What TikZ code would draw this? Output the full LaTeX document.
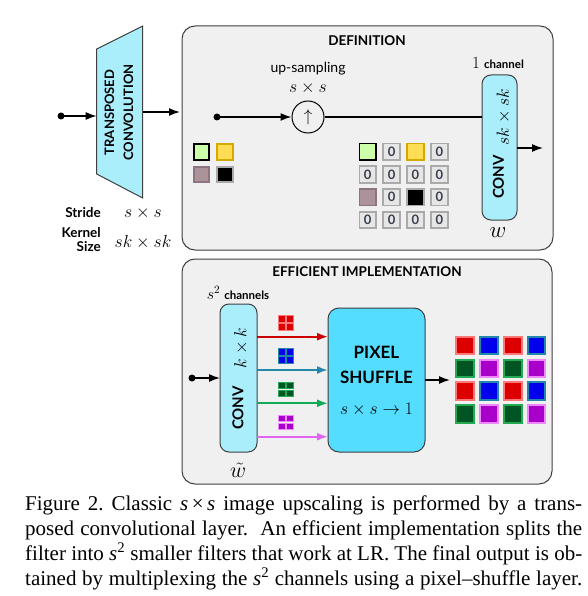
\RequirePackage{fix-cm}
\documentclass[tikz,border=0pt]{standalone}
\usepackage{fontspec}
\setmainfont{Liberation Serif}
\newfontfamily\lato{Lato}
\usetikzlibrary{arrows.meta}
\frenchspacing
\definecolor{cyanlight}{HTML}{AAEEFC}
\definecolor{cyanbright}{HTML}{55DDFF}
\definecolor{boxbg}{HTML}{F0F0F0}
\definecolor{boxline}{HTML}{404040}
\definecolor{cgreenf}{HTML}{CCFFAA}
\definecolor{cyellowf}{HTML}{FFDD55}
\definecolor{cyellowd}{HTML}{D4AA00}
\definecolor{cmauvef}{HTML}{AC939A}
\definecolor{cmauved}{HTML}{8E7480}
\definecolor{zerof}{HTML}{E6E6E6}
\definecolor{zerod}{HTML}{AAAAAA}
\definecolor{zerot}{HTML}{3A4050}
\definecolor{redf}{HTML}{DD0000}
\definecolor{redd}{HTML}{FF7777}
\definecolor{bluef}{HTML}{0000EE}
\definecolor{blued}{HTML}{2288AA}
\definecolor{greenf}{HTML}{005522}
\definecolor{greend}{HTML}{22AA55}
\definecolor{purplef}{HTML}{AA00CC}
\definecolor{purpled}{HTML}{EE88FF}
\definecolor{arrred}{HTML}{CC0000}
\definecolor{arrblue}{HTML}{2288AA}
\definecolor{arrgreen}{HTML}{11AA55}
\definecolor{arrmag}{HTML}{E066F0}
\tikzset{
  arr/.style={-{Latex[length=11pt,width=8pt]}, line width=1.5pt},
  carr/.style={-{Latex[length=11pt,width=8pt]}, line width=1.9pt},
  panel/.style={draw=boxline, fill=boxbg, rounded corners=13pt, line width=1pt, outer sep=0pt, inner sep=0pt},
  convbox/.style={draw=boxline, fill=cyanlight, rounded corners=9pt, line width=1pt, outer sep=0pt, inner sep=0pt},
  psbox/.style={draw=boxline, fill=cyanbright, rounded corners=11pt, line width=1pt, outer sep=0pt, inner sep=0pt},
  title/.style={font=\lato\bfseries\fontsize{13.5}{15}\selectfont},
  blbl/.style={font=\lato\bfseries\fontsize{13.5}{14}\selectfont, align=right, inner sep=0pt},
  mathlbl/.style={font=\fontsize{17.5}{19}\selectfont, inner sep=0pt},
  cell/.style={minimum size=15.5pt, line width=1.8pt, inner sep=0pt, outer sep=0pt},
  zcell/.style={cell, fill=zerof, draw=zerod, minimum size=16.5pt, font=\lato\bfseries\fontsize{13}{13}\selectfont, text=zerot},
  ocell/.style={minimum size=17.5pt, line width=2pt, inner sep=0pt, outer sep=0pt},
  icell/.style={minimum size=6.6pt, line width=0.9pt, inner sep=0pt, outer sep=0pt},
  capline/.style={anchor=base west, inner sep=0pt, font=\fontsize{21}{25}\selectfont},
}
\begin{document}
\begin{tikzpicture}[x=1pt,y=-1pt]
\useasboundingbox[fill=white] (0,0) rectangle (587,596);

% ---------- transposed convolution ----------
\coordinate (tl) at (96.7,49);
\coordinate (tr) at (142.7,26);
\coordinate (br) at (142.7,198);
\coordinate (bl) at (96.7,174);
\fill[cyanlight] (tl) -- (tr) -- (br) -- (bl) -- cycle;
\draw[boxline, line width=1pt] (tl) -- (tr) -- (br) -- (bl) -- cycle;
\node[rotate=90, align=center, font=\lato\bfseries\fontsize{13}{19}\selectfont] (tconv) at (119,112.5) {TRANSPOSED\\CONVOLUTION};
\coordinate (tin) at (61,116);
\coordinate (tinend) at (96.7,116);
\coordinate (toutst) at (142.7,112);
\coordinate (toutend) at (180,112);
\fill (tin) circle (3.5);
\draw[arr] (tin) -- (tinend);
\draw[arr] (toutst) -- (toutend);

\node[blbl, anchor=east] (stride) at (101,213) {Stride};
\node[blbl, anchor=east] (kernel) at (101,240) {Kernel\\Size};
\node[mathlbl] (sval) at (143,213) {$s\times s$};
\node[mathlbl] (kval) at (143,242) {$sk\times sk$};

% ---------- DEFINITION panel ----------
\node[panel, minimum width=371pt, minimum height=224pt, anchor=north west] (def) at (182,26) {};
\node[title] (deft) at (367,41) {DEFINITION};

\node[convbox, minimum width=35pt, minimum height=145pt] (defconv) at (499.5,147.5) {};
\node[mathlbl, rotate=90] (defk) at (503.5,117) {$sk\times sk$};
\node[rotate=90, font=\lato\bfseries\fontsize{15}{16}\selectfont] (defconvt) at (498.5,177) {CONV};
\node (onech) at (498,63) {\fontsize{17}{18}\selectfont$1$\ {\lato\bfseries\fontsize{11.5}{13}\selectfont channel}};
\node[font=\fontsize{23}{24}\selectfont] (wlbl) at (498,233) {$w$};

\coordinate (ddot) at (217,117);
\fill (ddot) circle (3.5);
\node[circle, draw, line width=1pt, minimum size=32pt, inner sep=0pt, font=\fontsize{17}{18}\selectfont] (up) at (308,117) {$\uparrow$};
\node[font=\lato\fontsize{14}{16}\selectfont] (upt) at (308,69) {up-sampling};
\node[mathlbl] (ups) at (308,88) {$s\times s$};
\draw[arr] (ddot) -- (up.west);
\draw[line width=1.5pt] (up.east) -- (up.east -| defconv.west);
\coordinate (defout) at (543,148);
\draw[arr] (defconv.east |- defout) -- (defout);

% small 2x2 input
\node[cell, fill=cgreenf, draw=black] (a1) at (201.5,152) {};
\node[cell, fill=cyellowf, draw=cyellowd] (a2) at (225,152) {};
\node[cell, fill=cmauvef, draw=cmauved] (a3) at (201.5,174.5) {};
\node[cell, fill=black, draw=zerod] (a4) at (225,174.5) {};

% 4x4 upsampled grid
\foreach \i in {0,...,3}{
  \foreach \j in {0,...,3}{
    \pgfmathsetmacro{\cx}{367.7+23.9*\i}
    \pgfmathsetmacro{\cy}{151.7+22.8*\j}
    \node[zcell] (z-\i-\j) at (\cx,\cy) {0};
  }
}
\node[zcell, fill=cgreenf, draw=black] (g00) at (z-0-0) {};
\node[zcell, fill=cyellowf, draw=cyellowd] (g20) at (z-2-0) {};
\node[zcell, fill=cmauvef, draw=cmauved] (g02) at (z-0-2) {};
\node[zcell, fill=black, draw=zerod] (g22) at (z-2-2) {};

% ---------- EFFICIENT panel ----------
\node[panel, minimum width=370pt, minimum height=225pt, anchor=north west] (eff) at (182,259) {};
\node[title] (efft) at (367,272) {EFFICIENT IMPLEMENTATION};

\node[convbox, minimum width=37pt, minimum height=148pt] (effconv) at (238.5,378) {};
\node[mathlbl, rotate=90] (effk) at (241,348) {$k\times k$};
\node[rotate=90, font=\lato\bfseries\fontsize{15}{16}\selectfont] (effconvt) at (238,408) {CONV};
\node (sch) at (238,293) {\fontsize{16}{18}\selectfont$s^2$\ {\lato\bfseries\fontsize{11.5}{13}\selectfont channels}};
\node[font=\fontsize{22}{23}\selectfont, inner sep=0pt] (wtl) at (238,470) {$\tilde{w}$};

\node[psbox, minimum width=97pt, minimum height=144pt] (ps) at (376.5,380) {};
\node[font=\lato\bfseries\fontsize{17}{18}\selectfont] (pst1) at (376.5,352) {PIXEL};
\node[font=\lato\bfseries\fontsize{17}{18}\selectfont] (pst2) at (376.5,377) {SHUFFLE};
\node[mathlbl] (pst3) at (376.5,410) {$s\times s\rightarrow 1$};

\coordinate (edot) at (192,378);
\fill (edot) circle (3.5);
\draw[arr] (edot) -- (effconv.west);

\coordinate (yr) at (0,336.7);
\coordinate (yb) at (0,370);
\coordinate (yg) at (0,403.3);
\coordinate (ym) at (0,436.7);
\draw[carr, arrred] (effconv.east |- yr) -- (ps.west |- yr);
\draw[carr, arrblue] (effconv.east |- yb) -- (ps.west |- yb);
\draw[carr, arrgreen] (effconv.east |- yg) -- (ps.west |- yg);
\draw[carr, arrmag] (effconv.east |- ym) -- (ps.west |- ym);

% icons
\foreach \n/\yy/\cf/\cd in {r/323/redf/redd, b/356/bluef/blued, g/389.5/greenf/greend, m/422.5/purplef/purpled}{
  \foreach \dx/\dy [count=\k] in {-4.1/-4.1, 4.1/-4.1, -4.1/4.1, 4.1/4.1}{
    \node[icell, fill=\cf, draw=\cd] (ic-\n-\k) at (286+\dx,\yy+\dy) {};
  }
}

\coordinate (effout) at (450,380);
\draw[arr] (ps.east |- effout) -- (effout);

% output grid
\foreach \i in {0,...,3}{
  \foreach \j in {0,...,3}{
    \pgfmathsetmacro{\cx}{465+23.9*\i}
    \pgfmathsetmacro{\cy}{345.7+22.7*\j}
    \pgfmathtruncatemacro{\ci}{mod(\i,2)}
    \pgfmathtruncatemacro{\cj}{mod(\j,2)}
    \ifnum\cj=0
      \ifnum\ci=0 \def\cf{redf}\def\cd{redd}\else \def\cf{bluef}\def\cd{blued}\fi
    \else
      \ifnum\ci=0 \def\cf{greenf}\def\cd{greend}\else \def\cf{purplef}\def\cd{purpled}\fi
    \fi
    \node[ocell, fill=\cf, draw=\cd] (o-\i-\j) at (\cx,\cy) {};
  }
}

% ---------- caption ----------
\node[capline] (cap1) at (25,510) {\hbox to 557pt{Figure 2. Classic \textit{s}\,×\,\textit{s} image upscaling is performed by a trans-}};
\node[capline] (cap2) at (25,535) {\hbox to 557pt{posed convolutional layer.\ \ An efficient implementation splits the}};
\node[capline] (cap3) at (25,560) {\hbox to 557pt{filter into \textit{s}\textsuperscript{2} smaller filters that work at LR. The final output is ob-}};
\node[capline] (cap4) at (25,585) {\hbox to 557pt{tained by multiplexing the \textit{s}\textsuperscript{2} channels using a pixel–shuffle layer.}};
\end{tikzpicture}
\end{document}
